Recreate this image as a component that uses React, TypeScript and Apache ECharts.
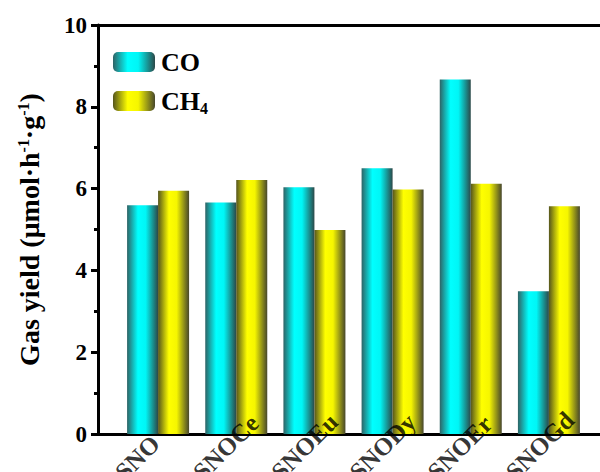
import React, { useEffect, useRef } from "react";
import * as echarts from "echarts";

const categories = ["SNO", "SNOCe", "SNOEu", "SNODy", "SNOEr", "SNOGd"];
const coValues = [5.59, 5.66, 6.03, 6.5, 8.67, 3.49];
const ch4Values = [5.95, 6.21, 4.99, 5.98, 6.12, 5.57];
const labelBaseline = categories.map(() => 0);
const seriesNames = ["CO", "CH4"];
const yTicks = { min: 0, max: 10, interval: 2 };

const FONT = "'Liberation Serif', 'Times New Roman', serif";

function grad(stops: [number, string][]) {
  return new echarts.graphic.LinearGradient(
    0, 0, 1, 0,
    stops.map(([offset, color]) => ({ offset, color }))
  );
}

export default function App() {
  const ref = useRef<HTMLDivElement>(null);
  useEffect(() => {
    document.body.style.margin = "0";
    const chart = echarts.init(ref.current!, null, { renderer: "svg" });
    const coColor = grad([
      [0, "#2e6365"],
      [0.35, "#00ffff"],
      [0.6, "#00f6f6"],
      [1, "#2c4848"],
    ]);
    const ch4Color = grad([
      [0, "#55551c"],
      [0.35, "#ffff00"],
      [0.6, "#f6f600"],
      [1, "#47472c"],
    ]);
    const gridBase = { top: 25, bottom: 38, containLabel: false, outerBoundsMode: "none" };
    chart.setOption({
      animation: false,
      backgroundColor: "#ffffff",
      legend: {
        orient: "vertical",
        left: 113,
        top: 49,
        padding: 0,
        itemWidth: 42,
        itemHeight: 20,
        itemGap: 13,
        data: seriesNames,
        formatter: (n: string) => (n === "CH4" ? "CH{sub|4}" : n),
        textStyle: {
          fontFamily: FONT,
          fontWeight: "bold",
          fontSize: 26,
          color: "#000",
          padding: [0, 0, 0, 1],
          rich: {
            sub: {
              fontFamily: FONT,
              fontWeight: "bold",
              fontSize: 16,
              verticalAlign: "bottom",
              padding: [14, 0, 0, 0],
            },
          },
        },
      },
      grid: [
        { ...gridBase, left: 98, right: -30 },
        { ...gridBase, left: 119, right: 12 },
      ],
      xAxis: [
        {
          gridIndex: 0,
          type: "value",
          position: "bottom",
          min: 0,
          max: 1,
          axisLine: { show: true, onZero: false, lineStyle: { color: "#000", width: 3 } },
          axisTick: { show: false },
          axisLabel: { show: false },
          splitLine: { show: false },
        },
        {
          gridIndex: 0,
          type: "value",
          position: "top",
          min: 0,
          max: 1,
          axisLine: { show: true, onZero: false, lineStyle: { color: "#000", width: 3 } },
          axisTick: { show: false },
          axisLabel: { show: false },
          splitLine: { show: false },
        },
        {
          gridIndex: 1,
          type: "category",
          data: categories,
          axisLine: { show: false },
          axisTick: { show: false },
          axisLabel: { show: false },
        },
      ],
      yAxis: [
        {
          gridIndex: 0,
          type: "value",
          min: yTicks.min,
          max: yTicks.max,
          interval: yTicks.interval,
          name: "Gas yield (μmol·h{sup|-1}·g{sup|-1})",
          nameLocation: "middle",
          nameGap: 55,
          nameTextStyle: {
            fontFamily: FONT,
            fontWeight: "bold",
            fontSize: 28,
            color: "#000",
            rich: {
              sup: {
                fontFamily: FONT,
                fontWeight: "bold",
                fontSize: 16,
                verticalAlign: "top",
                padding: [0, 0, 12, 0],
              },
            },
          },
          axisLine: { show: true, lineStyle: { color: "#000", width: 3 } },
          axisTick: { show: true, inside: false, length: 7, lineStyle: { color: "#000", width: 3 } },
          minorTick: { show: true, splitNumber: 2, length: 4, lineStyle: { color: "#000", width: 3 } },
          axisLabel: {
            margin: 11,
            fontFamily: FONT,
            fontWeight: "bold",
            fontSize: 23,
            color: "#000",
          },
          splitLine: { show: false },
        },
        {
          gridIndex: 1,
          type: "value",
          min: yTicks.min,
          max: yTicks.max,
          show: false,
        },
      ],
      series: [
        {
          name: "CO",
          type: "bar",
          xAxisIndex: 2,
          yAxisIndex: 1,
          data: coValues,
          barWidth: 31,
          barGap: "0%",
          itemStyle: { color: coColor },
        },
        {
          name: "CH4",
          type: "bar",
          xAxisIndex: 2,
          yAxisIndex: 1,
          data: ch4Values,
          barWidth: 31,
          barGap: "0%",
          itemStyle: { color: ch4Color },
        },
        {
          name: "labels",
          type: "scatter",
          xAxisIndex: 2,
          yAxisIndex: 1,
          data: labelBaseline,
          symbolSize: 0,
          z: 20,
          silent: true,
          clip: false,
          label: {
            show: true,
            position: "inside",
            formatter: (p: any) => p.name,
            rotate: 45,
            align: "left",
            verticalAlign: "middle",
            offset: [-57, 2],
            fontFamily: FONT,
            fontWeight: "bold",
            fontSize: 25,
            color: "#000",
          },
        },
      ],
    });
    return () => chart.dispose();
  }, []);
  return (
    <div
      ref={ref}
      style={{ position: "absolute", left: 0, top: 0, width: 600, height: 472 }}
    />
  );
}
